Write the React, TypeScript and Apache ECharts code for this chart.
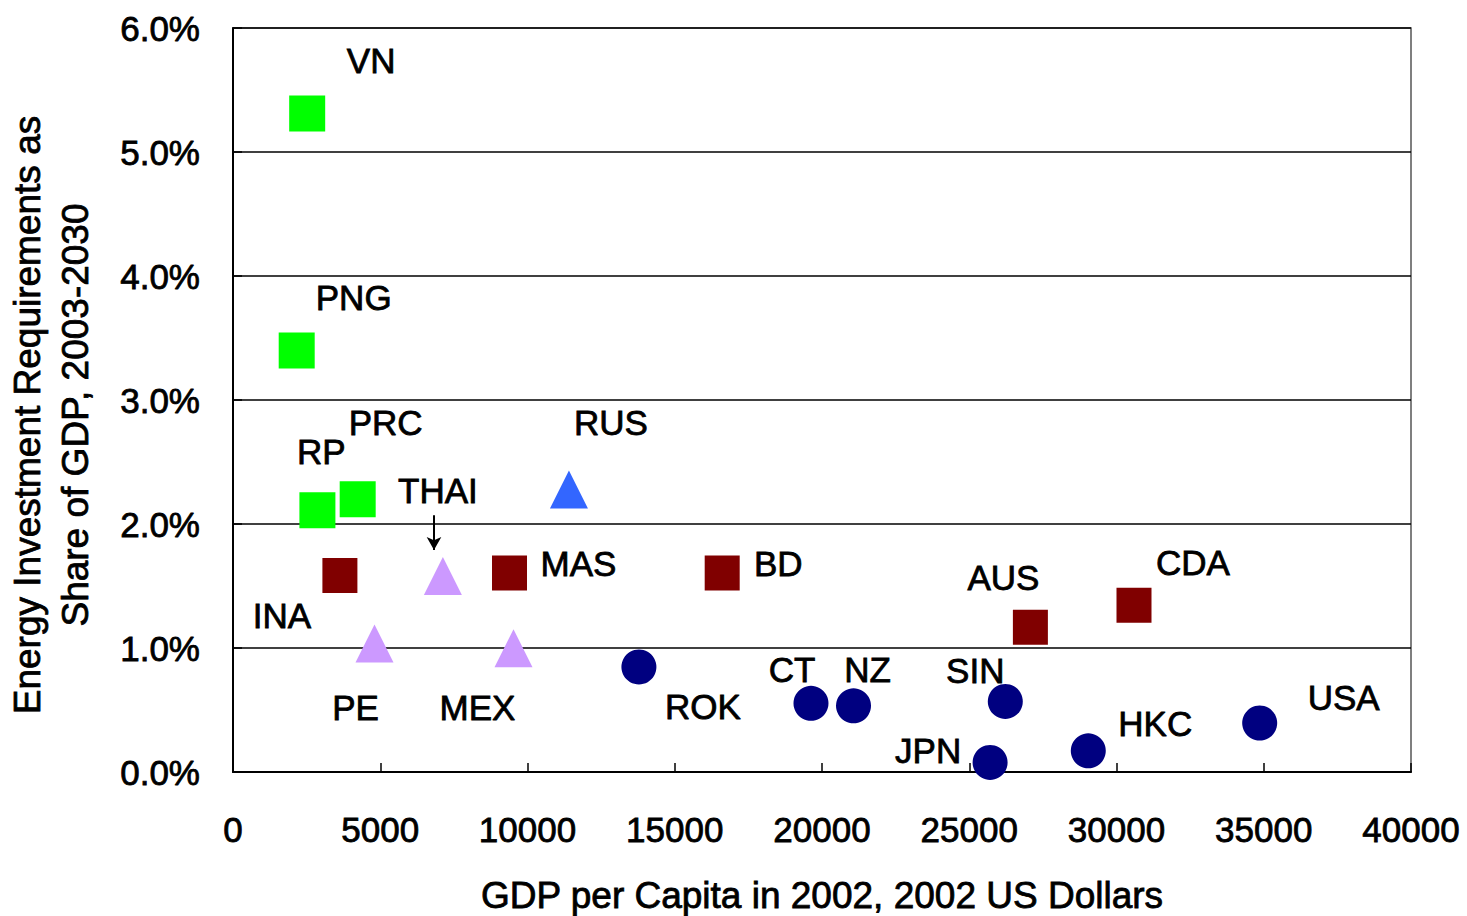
import React, { useEffect, useRef } from "react";
import * as echarts from "echarts";

// Green squares
const greenNames = ["VN", "PNG", "PRC", "RP"];
const greenGdp = [2519, 2163, 4234, 2866];
const greenShare = [5.31, 3.4, 2.2, 2.11];

// Maroon squares
const maroonNames = ["INA", "MAS", "BD", "AUS", "CDA"];
const maroonGdp = [3630, 9389, 16611, 27076, 30594];
const maroonShare = [1.585, 1.605, 1.604, 1.168, 1.345];

// Lavender triangles
const lavenderNames = ["THAI", "PE", "MEX"];
const lavenderGdp = [7127, 4805, 9525];
const lavenderShare = [1.581, 1.037, 0.998];

// Blue triangle
const blueNames = ["RUS"];
const blueGdp = [11406];
const blueShare = [2.278];

// Navy circles
const navyNames = ["ROK", "CT", "NZ", "SIN", "JPN", "HKC", "USA"];
const navyGdp = [13783, 19626, 21070, 26224, 25708, 29042, 34862];
const navyShare = [0.847, 0.554, 0.534, 0.569, 0.077, 0.171, 0.395];

// Axis ticks
const xTicks = [0, 5000, 10000, 15000, 20000, 25000, 30000, 35000, 40000];
const yTicks = [0, 1, 2, 3, 4, 5, 6];

// THAI arrow (data coordinates)
const arrowX = 6825;
const arrowFrom = 2.07;
const arrowTo = 1.79;

// Label pixel offsets from the marker centre (styling)
const labelOffset: Record<string, [number, number]> = {
  VN: [64, -53],
  PNG: [57, -53],
  PRC: [28, -77],
  RP: [4, -59],
  INA: [-58, 40],
  MAS: [69, -9],
  BD: [56, -10],
  AUS: [-27, -50],
  CDA: [59, -43],
  THAI: [-5, -85],
  PE: [-19, 64],
  MEX: [-36, 59],
  RUS: [42, -67],
  ROK: [64, 40],
  CT: [-19, -34],
  NZ: [14, -36],
  SIN: [-30, -31],
  JPN: [-62, -12],
  HKC: [67, -27],
  USA: [84, -26],
};

const FONT = "'Liberation Sans', Arial, sans-serif";
const heavy = { textBorderColor: "#000", textBorderWidth: 0.8 };

function buildData(names: string[], xs: number[], ys: number[]) {
  return names.map((n, i) => ({
    name: n,
    value: [xs[i], ys[i]],
    label: {
      show: true,
      position: "inside" as const,
      offset: labelOffset[n],
      formatter: n,
    },
  }));
}

const labelStyle = {
  color: "#000",
  fontFamily: FONT,
  fontSize: 35,
  align: "center",
  verticalAlign: "middle",
  ...heavy,
};

export default function App() {
  const ref = useRef<HTMLDivElement>(null);
  useEffect(() => {
    if (!ref.current) return;
    const chart = echarts.init(ref.current, null, { renderer: "svg" });
    chart.setOption({
      animation: false,
      backgroundColor: "#fff",
      grid: {
        left: 233,
        right: 56,
        top: 28,
        bottom: 144,
        containLabel: false,
        outerBoundsMode: "none",
        show: true,
        borderColor: "#555",
        borderWidth: 1.5,
        backgroundColor: "transparent",
      },
      xAxis: {
        type: "value",
        min: xTicks[0],
        max: xTicks[xTicks.length - 1],
        interval: xTicks[1] - xTicks[0],
        name: "GDP per Capita in 2002, 2002 US Dollars",
        nameLocation: "middle",
        nameGap: 105,
        nameTextStyle: { fontFamily: FONT, fontSize: 37, color: "#000", ...heavy },
        axisLine: { show: true, lineStyle: { color: "#000", width: 2 } },
        axisTick: { show: true, inside: true, length: 9, lineStyle: { color: "#000", width: 1.5 } },
        axisLabel: {
          fontFamily: FONT,
          fontSize: 35,
          color: "#000",
          margin: 40,
          formatter: (v: number) => String(v),
          ...heavy,
        },
        splitLine: { show: false },
      },
      yAxis: {
        type: "value",
        min: yTicks[0],
        max: yTicks[yTicks.length - 1],
        interval: 1,
        name: "Energy Investment Requirements as\nShare of GDP, 2003-2030",
        nameLocation: "middle",
        nameRotate: 90,
        nameGap: 134,
        nameTextStyle: {
          fontFamily: FONT,
          fontSize: 37,
          color: "#000",
          lineHeight: 48,
          padding: [0, 30, 0, 0],
          ...heavy,
        },
        axisLine: { show: true, lineStyle: { color: "#000", width: 2 } },
        axisTick: { show: true, inside: true, length: 9, lineStyle: { color: "#000", width: 1.5 } },
        axisLabel: {
          fontFamily: FONT,
          fontSize: 35,
          color: "#000",
          margin: 33,
          formatter: (v: number) => v.toFixed(1) + "%",
          ...heavy,
        },
        splitLine: { show: true, lineStyle: { color: "#000", width: 1.5 } },
      },
      series: [
        {
          type: "scatter",
          symbol: "rect",
          symbolSize: 36,
          itemStyle: { color: "#00ff00", opacity: 1 },
          label: labelStyle,
          data: buildData(greenNames, greenGdp, greenShare),
        },
        {
          type: "scatter",
          symbol: "rect",
          symbolSize: 35,
          itemStyle: { color: "#800000", opacity: 1 },
          label: labelStyle,
          data: buildData(maroonNames, maroonGdp, maroonShare),
        },
        {
          type: "scatter",
          symbol: "triangle",
          symbolSize: 38,
          itemStyle: { color: "#cc99ff", opacity: 1 },
          label: labelStyle,
          data: buildData(lavenderNames, lavenderGdp, lavenderShare),
          markLine: {
            silent: true,
            symbol: ["none", "arrow"],
            symbolSize: [11, 13],
            lineStyle: { color: "#000", width: 2, type: "solid" },
            label: { show: false },
            data: [[{ coord: [arrowX, arrowFrom] }, { coord: [arrowX, arrowTo] }]],
          },
        },
        {
          type: "scatter",
          symbol: "triangle",
          symbolSize: 38,
          itemStyle: { color: "#3366ff", opacity: 1 },
          label: labelStyle,
          data: buildData(blueNames, blueGdp, blueShare),
        },
        {
          type: "scatter",
          symbol: "circle",
          symbolSize: 35,
          itemStyle: { color: "#000080", opacity: 1 },
          label: labelStyle,
          data: buildData(navyNames, navyGdp, navyShare),
        },
      ],
    });
    return () => chart.dispose();
  }, []);
  return (
    <div
      ref={ref}
      style={{ position: "fixed", left: 0, top: 0, width: 1467, height: 916, background: "#fff" }}
    />
  );
}
